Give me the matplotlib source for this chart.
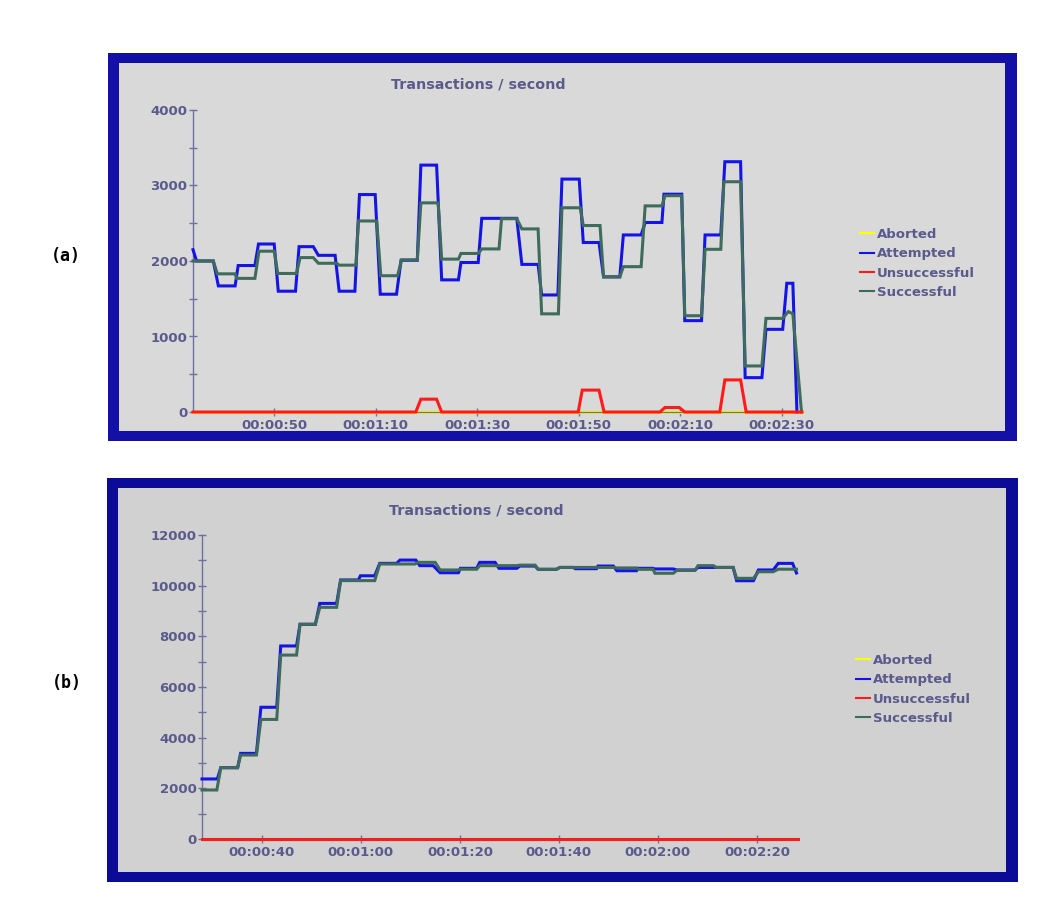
import numpy as np
import matplotlib
matplotlib.use('Agg')
import matplotlib.pyplot as plt
from matplotlib.patches import Rectangle
from matplotlib.lines import Line2D
from matplotlib.ticker import FuncFormatter, MultipleLocator

#### data (a) - time in seconds, values in transactions/second
t_att_a = [34.0, 34.7, 38.0, 39.0, 42.3, 42.9, 46.2, 46.9, 50.0, 50.8, 54.2, 54.9, 57.7, 58.7,
           62.0, 62.8, 65.9, 66.8, 69.9, 70.9, 74.1, 75.0, 78.2, 78.9, 82.0, 83.0, 86.3, 86.8,
           90.2, 90.9, 97.8, 98.8, 102.0, 102.7, 105.9, 106.7, 110.1, 110.9, 114.0, 114.9,
           118.1, 118.8, 122.3, 123.1, 126.4, 126.8, 130.3, 130.9, 134.2, 134.9, 138.0, 138.8,
           141.9, 142.8, 146.1, 146.9, 150.2, 151.0, 152.2, 153.0]
v_att_a = [2150, 2000, 2000, 1670, 1670, 1940, 1940, 2225, 2225, 1600, 1600, 2190, 2190, 2075,
           2075, 1600, 1600, 2880, 2880, 1560, 1560, 2010, 2010, 3270, 3270, 1750, 1750, 1980,
           1980, 2565, 2565, 1955, 1955, 1550, 1550, 3085, 3085, 2245, 2245, 1790,
           1790, 2345, 2345, 2510, 2510, 2885, 2885, 1210, 1210, 2345, 2345, 3315,
           3315, 455, 455, 1095, 1095, 1705, 1705, 0]

t_suc_a = [34.0, 38.0, 38.8, 42.3, 42.6, 46.2, 47.0, 50.0, 50.7, 54.4, 55.1, 57.7, 58.7, 62.3,
           62.8, 66.1, 66.6, 70.2, 71.0, 74.3, 75.1, 78.2, 78.9, 82.3, 83.0, 86.3, 86.8, 90.2,
           90.9, 94.3, 94.8, 97.8, 98.8, 102.0, 102.7, 106.0, 106.7, 110.3, 110.9, 114.2,
           114.9, 118.1, 118.8, 122.3, 123.1, 126.4, 127.0, 130.3, 130.9, 134.2, 134.9, 138.0,
           138.6, 141.9, 142.8, 146.1, 146.9, 150.2, 151.3, 152.2, 153.9]
v_suc_a = [2000, 2000, 1830, 1830, 1770, 1770, 2130, 2130, 1835, 1835, 2045, 2045, 1970, 1970,
           1945, 1945, 2530, 2530, 1805, 1805, 2015, 2015, 2770, 2770, 2025, 2025, 2100, 2100,
           2160, 2160, 2560, 2560, 2425, 2425, 1300, 1300, 2705, 2705, 2470, 2470,
           1790, 1790, 1925, 1925, 2730, 2730, 2865, 2865, 1275, 1275, 2155, 2155,
           3050, 3050, 610, 610, 1240, 1240, 1330, 1300, 0]

t_uns_a = [34.0, 77.9, 78.9, 82.0, 83.0, 109.9, 110.7, 114.0, 115.0, 126.0, 127.0, 129.8,
           130.9, 137.8, 138.8, 141.9, 143.0, 154.0]
v_uns_a = [0, 0, 170, 170, 0, 0, 290, 290, 0, 0, 60, 60, 0, 0, 425, 425, 0, 0]

t_abo_a = [34.0, 154.0]
v_abo_a = [0, 0]

#### data (b)
t_att_b = [27.9, 31.0, 31.7, 35.1, 35.7, 38.9, 39.8, 43.0, 43.8, 47.0, 47.7, 50.8, 51.7, 55.1,
           55.9, 59.5, 59.9, 62.8, 63.8, 67.2, 67.9, 71.1, 71.9, 74.6, 76.0, 79.7, 80.1, 83.4,
           84.0, 87.1, 87.9, 91.5, 92.1, 95.2, 95.8, 99.5, 100.2, 102.9, 103.3, 107.6, 107.9,
           111.0, 111.7, 115.7, 116.0, 119.0, 119.4, 123.1, 123.8, 127.5, 128.1, 135.2, 135.9,
           139.3, 140.3, 143.3, 144.3, 147.2, 148.0]
v_att_b = [2370, 2370, 2815, 2815, 3380, 3380, 5200, 5200, 7620, 7620, 8475, 8475, 9300, 9300,
           10225, 10225, 10390, 10390, 10880, 10880, 11010, 11010, 10790, 10790, 10510, 10510,
           10685, 10685, 10920, 10920, 10685, 10685, 10775, 10775, 10645, 10645, 10720, 10720,
           10670, 10670, 10775, 10775, 10590, 10590, 10685, 10685, 10660, 10660, 10620, 10620,
           10720, 10720, 10195, 10195, 10620, 10620, 10880, 10880, 10500]

t_suc_b = [27.9, 30.9, 31.7, 35.1, 35.7, 38.9, 39.8, 43.0, 43.8, 47.0, 47.7, 50.8, 51.7, 55.1,
           55.9, 62.8, 63.8, 70.9, 71.6, 75.0, 76.0, 79.7, 80.1, 83.4, 84.0, 91.5, 92.1, 95.2,
           95.8, 99.5, 100.2, 111.0, 111.7, 115.7, 116.0, 119.0, 119.4, 123.1, 123.8, 127.5,
           128.1, 131.2, 131.8, 135.2, 135.9, 139.3, 140.3, 143.3, 144.3, 148.0]
v_suc_b = [1935, 1935, 2815, 2815, 3315, 3315, 4720, 4720, 7260, 7260, 8475, 8475, 9145, 9145,
           10200, 10200, 10855, 10855, 10920, 10920, 10620, 10620, 10650, 10650, 10790, 10790,
           10810, 10810, 10645, 10645, 10720, 10720, 10700, 10700, 10645, 10645, 10490, 10490,
           10600, 10600, 10790, 10790, 10720, 10720, 10290, 10290, 10550, 10550, 10650, 10650]

t_uns_b = [27.9, 148.3]
v_uns_b = [0, 0]
t_abo_b = [27.9, 148.3]
v_abo_b = [0, 0]

labels = ['Aborted', 'Attempted', 'Unsuccessful', 'Successful']
colors = ['#ffff00', '#1414e6', '#ff1a1a', '#3f6b5c']
TXT = '#5a5a8c'
AX = '#7070a0'

W, H = 1063, 913
fig = plt.figure(figsize=(W / 100, H / 100), dpi=100)
fig.patch.set_facecolor('white')


def px(x0, y0, x1, y1):
    # pixel box -> figure fraction [left, bottom, width, height]
    return [x0 / W, 1 - y1 / H, (x1 - x0) / W, (y1 - y0) / H]


def frame(outer, inner, blue, gray):
    r = px(*outer)
    fig.add_artist(Rectangle((r[0], r[1]), r[2], r[3], transform=fig.transFigure,
                             facecolor=blue, edgecolor='none', zorder=0))
    r = px(*inner)
    fig.add_artist(Rectangle((r[0], r[1]), r[2], r[3], transform=fig.transFigure,
                             facecolor=gray, edgecolor='none', zorder=0))


def hms(x, pos):
    x = int(round(x))
    return '%02d:%02d:%02d' % (x // 3600, (x % 3600) // 60, x % 60)


def panel(box, series, xlim, ymax, ymaj, ymin, xticks, title_xy, leg_xy):
    ax = fig.add_axes(px(*box))
    ax.patch.set_alpha(0)
    for s in ['top', 'right']:
        ax.spines[s].set_visible(False)
    for s in ['left', 'bottom']:
        ax.spines[s].set_color(AX)
        ax.spines[s].set_linewidth(1)
    z = [2, 3, 5, 4]
    for (t, v), c, zz in zip(series, colors, z):
        ax.plot(t, v, color=c, lw=2.2, zorder=zz, solid_joinstyle='miter', clip_on=False)
    ax.set_xlim(*xlim)
    ax.set_ylim(0, ymax)
    ax.yaxis.set_major_locator(MultipleLocator(ymaj))
    ax.yaxis.set_minor_locator(MultipleLocator(ymin))
    ax.set_xticks(xticks)
    ax.xaxis.set_major_formatter(FuncFormatter(hms))
    ax.tick_params(axis='both', which='both', direction='inout', length=6, width=1,
                   color=AX, labelcolor=TXT, labelsize=9.5)
    ax.tick_params(axis='y', pad=1)
    ax.tick_params(axis='x', pad=2)
    for lab in ax.get_xticklabels() + ax.get_yticklabels():
        lab.set_fontweight('bold')
    fig.text(title_xy[0] / W, 1 - title_xy[1] / H, 'Transactions / second', ha='center',
             va='center', color=TXT, fontsize=10.3, fontweight='bold')
    handles = [Line2D([], [], color=c, lw=1.5) for c in colors]
    ax.legend(handles, labels, loc='center left',
              bbox_to_anchor=(leg_xy[0] / W, 1 - leg_xy[1] / H),
              bbox_transform=fig.transFigure, frameon=False, borderpad=0,
              handlelength=1.1, handletextpad=0.2, labelspacing=0.48,
              prop={'size': 9.5, 'weight': 'bold'}, labelcolor=TXT)
    return ax


# chart (a)
frame((108, 53, 1017, 441), (119, 63, 1005, 431), '#140fa6', '#d9d9d9')
panel((193, 110, 802, 412),
      [(t_abo_a, v_abo_a), (t_att_a, v_att_a), (t_uns_a, v_uns_a), (t_suc_a, v_suc_a)],
      (34, 154), 4000, 1000, 500, [50, 70, 90, 110, 130, 150], (478, 84), (853, 263.5))

# chart (b)
frame((107, 478, 1018, 882), (118, 488, 1006, 872), '#0b0b98', '#d1d1d1')
panel((202, 535, 798, 839),
      [(t_abo_b, v_abo_b), (t_att_b, v_att_b), (t_uns_b, v_uns_b), (t_suc_b, v_suc_b)],
      (27.9, 148.3), 12000, 2000, 1000, [40, 60, 80, 100, 120, 140], (476, 510), (849, 689.5))

fig.text(66 / W, 1 - 256 / H, '(a)', ha='center', va='center', fontsize=12,
         fontweight='bold', family='DejaVu Sans Mono')
fig.text(67 / W, 1 - 683 / H, '(b)', ha='center', va='center', fontsize=12,
         fontweight='bold', family='DejaVu Sans Mono')

plt.savefig('out.png', dpi=100)
